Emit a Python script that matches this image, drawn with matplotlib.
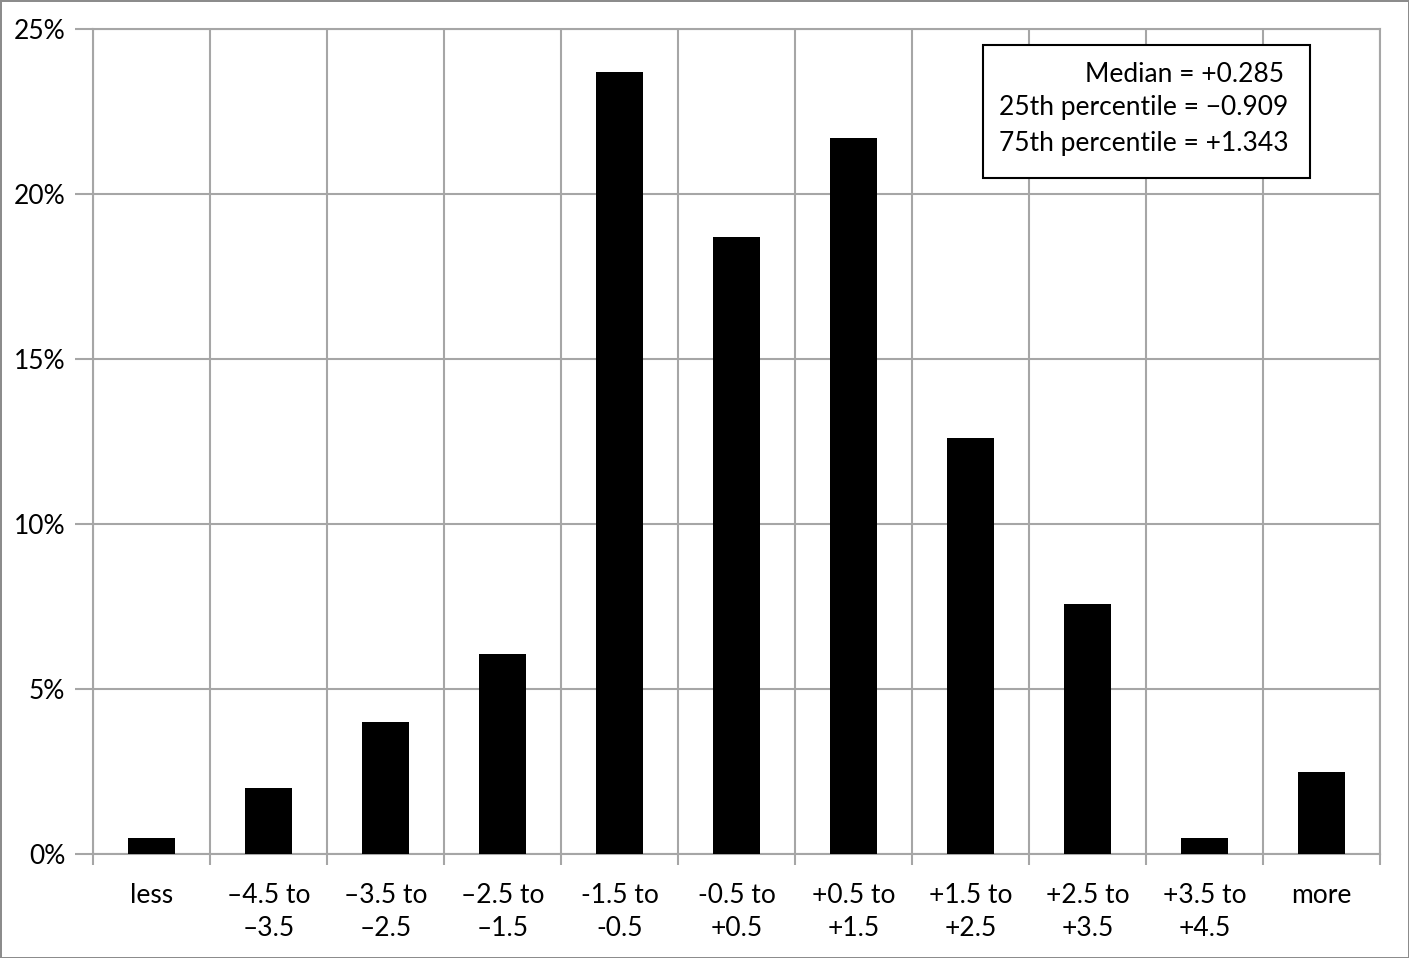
import matplotlib
matplotlib.use("Agg")
import matplotlib.pyplot as plt
from matplotlib.patches import Rectangle
import numpy as np

categories = ["less", "\u20134.5 to\n\u20133.5", "\u20133.5 to\n\u20132.5", "\u20132.5 to\n\u20131.5",
              "-1.5 to\n-0.5", "-0.5 to\n+0.5", "+0.5 to\n+1.5", "+1.5 to\n+2.5",
              "+2.5 to\n+3.5", "+3.5 to\n+4.5", "more"]
values = [0.5, 2.0, 4.0, 6.06, 23.7, 18.7, 21.7, 12.6, 7.58, 0.5, 2.5]
yticks = [0, 5, 10, 15, 20, 25]
ytick_labels = ["0%", "5%", "10%", "15%", "20%", "25%"]
stats_lines = ["Median = +0.285", "25th percentile = \u22120.909", "75th percentile = +1.343"]

plt.rcParams['font.family'] = ['Lato', 'DejaVu Sans']
grid_c = '#a6a6a6'
fs = 19

fig = plt.figure(figsize=(14.09, 9.58), dpi=100, edgecolor='#8c8c8c', linewidth=2)
ax = fig.add_axes([93/1409, 1-854/958, (1380-93)/1409, (854-29)/958])

x = np.arange(len(categories))
ax.bar(x, values, width=0.40, color='black', zorder=3)

ax.set_xlim(-0.5, len(categories)-0.5)
ax.set_ylim(0, 25)
ax.set_yticks(yticks)
ax.set_yticklabels(ytick_labels, fontsize=fs)
ax.set_xticks(x)
ax.set_xticklabels(categories, fontsize=fs, linespacing=1.4)
ax.set_xticks(np.arange(-0.5, len(categories), 1.0), minor=True)

ax.tick_params(axis='x', which='major', length=0, pad=21)
ax.tick_params(axis='x', which='minor', length=8, width=1.5, color=grid_c, direction='out')
ax.tick_params(axis='y', which='major', length=13, width=1.5, color=grid_c, pad=7)

ax.grid(axis='y', which='major', color=grid_c, linewidth=1.5, zorder=0)
ax.grid(axis='x', which='minor', color=grid_c, linewidth=1.5, zorder=0)
ax.grid(axis='x', which='major', visible=False)
for s in ax.spines.values():
    s.set_color(grid_c)
    s.set_linewidth(1.5)

# stats box
bx0, bx1 = (983-93)/1287, (1310-93)/1287
by0, by1 = (854-178)/825, (854-45)/825
ax.add_patch(Rectangle((bx0, by0), bx1-bx0, by1-by0, transform=ax.transAxes,
                       facecolor='white', edgecolor='black', linewidth=1.5, zorder=5))
xs = [(1085-93)/1287, (999-93)/1287, (999-93)/1287]
ys = [(854-75)/825, (854-108)/825, (854-143)/825]
for t, xx, yy in zip(stats_lines, xs, ys):
    ax.text(xx, yy, t, transform=ax.transAxes, fontsize=fs, ha='left', va='center', zorder=6)

fig.savefig("out.png", dpi=100)
